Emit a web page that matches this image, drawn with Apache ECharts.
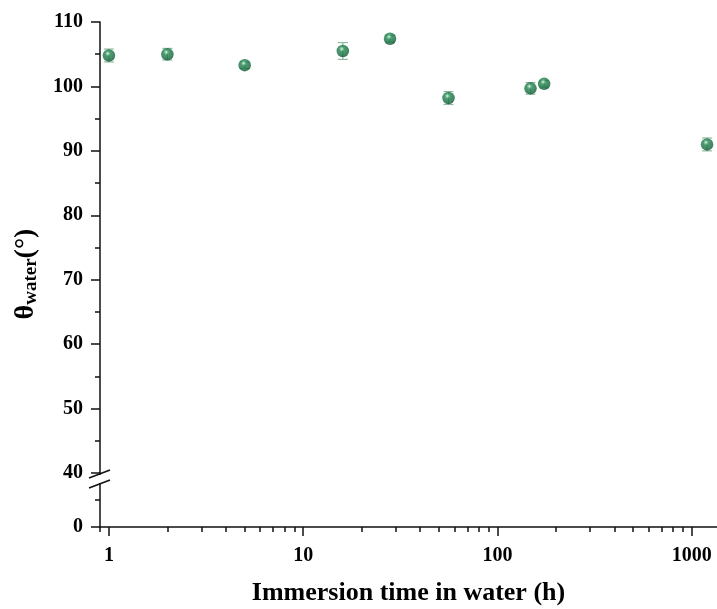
<!DOCTYPE html>
<html>
<head>
<meta charset="utf-8">
<script src="https://cdn.jsdelivr.net/npm/echarts@6/dist/echarts.min.js"></script>
<style>html,body{margin:0;padding:0;background:#fff}#c{width:717px;height:609px}</style>
</head>
<body>
<div id="c"></div>
<script>
// ---- data ----
const times  = [1, 2, 5, 16, 28, 56, 148, 174, 1200];          // immersion time (h)
const angles = [104.8, 105.0, 103.3, 105.5, 107.4, 98.2, 99.7, 100.4, 91.0]; // θ water (°)
const errors = [1.0, 0.9, 0.5, 1.3, 0.5, 1.0, 0.9, 0.5, 1.0];
const xMajorTicks = [1, 10, 100, 1000];
const xMinorTicks = [0.9, 2, 3, 4, 5, 6, 7, 8, 9, 20, 30, 40, 50, 60, 70, 80, 90, 200, 300, 400, 500, 600, 700, 800, 900];
const yUpperTicks = [40, 50, 60, 70, 80, 90, 100, 110];
const yLowerTicks = [0];

const SERIF = '"Liberation Serif","Times New Roman",serif';
const xMin = 0.9, xMax = 1350;

const chart = echarts.init(document.getElementById('c'));
const sphere = {
  type: 'radial', x: 0.42, y: 0.34, r: 0.64,
  colorStops: [
    {offset: 0, color: '#eaf7ef'},
    {offset: 0.14, color: '#7cc59c'},
    {offset: 0.34, color: '#20804d'},
    {offset: 0.8, color: '#146b3d'},
    {offset: 1, color: '#0d5230'}
  ]
};

const option = {
  backgroundColor: '#fff',
  animation: false,
  grid: [
    {left: 100, right: 0, top: 22, height: 451},
    {left: 100, right: 0, top: 473, height: 54}
  ],
  xAxis: [
    {gridIndex: 0, type: 'log', min: xMin, max: xMax, show: false},
    {gridIndex: 1, type: 'log', min: xMin, max: xMax, position: 'bottom',
      axisLine: {show: true, lineStyle: {color: '#111', width: 1.5}},
      axisTick: {show: true, length: 9, inside: false, customValues: xMajorTicks, lineStyle: {color: '#111', width: 1.5}},
      axisLabel: {show: true, customValues: xMajorTicks, margin: 19, color: '#000', fontSize: 20, fontWeight: 'bold', fontFamily: SERIF,
        formatter: v => String(Math.round(v))},
      splitLine: {show: false},
      name: 'Immersion time in water (h)', nameLocation: 'middle', nameGap: 53,
      nameTextStyle: {color: '#000', fontSize: 26, fontWeight: 'bold', fontFamily: SERIF}
    },
    {gridIndex: 1, type: 'log', min: xMin, max: xMax, position: 'bottom',
      axisLine: {show: false},
      axisTick: {show: true, length: 5, inside: false, customValues: xMinorTicks, lineStyle: {color: '#111', width: 1.5}},
      axisLabel: {show: false}, splitLine: {show: false}
    }
  ],
  yAxis: [
    {gridIndex: 0, type: 'value', min: 40, max: 110, interval: 10,
      axisLine: {show: true, lineStyle: {color: '#111', width: 1.5}},
      axisTick: {show: true, length: 9, inside: false, customValues: yUpperTicks, lineStyle: {color: '#111', width: 1.5}},
      minorTick: {show: true, splitNumber: 2, length: 5, lineStyle: {color: '#111', width: 1.5}},
      axisLabel: {customValues: yUpperTicks, margin: 17, color: '#000', fontSize: 20, fontWeight: 'bold', fontFamily: SERIF},
      splitLine: {show: false}
    },
    {gridIndex: 1, type: 'value', min: 0, max: 40, interval: 40,
      axisLine: {show: true, lineStyle: {color: '#111', width: 1.5}},
      axisTick: {show: true, length: 9, inside: false, customValues: yLowerTicks, lineStyle: {color: '#111', width: 1.5}},
      minorTick: {show: true, splitNumber: 2, length: 5, lineStyle: {color: '#111', width: 1.5}},
      axisLabel: {customValues: yLowerTicks, margin: 17, color: '#000', fontSize: 20, fontWeight: 'bold', fontFamily: SERIF},
      splitLine: {show: false}
    }
  ],
  series: [
    {
      type: 'custom', xAxisIndex: 0, yAxisIndex: 0, z: 2,
      data: times.map((t, i) => [t, angles[i] - errors[i], angles[i] + errors[i]]),
      renderItem: function (params, api) {
        const lo = api.coord([api.value(0), api.value(1)]);
        const hi = api.coord([api.value(0), api.value(2)]);
        const w = 5;
        const st = {stroke: '#8fb9a2', lineWidth: 1.2};
        return {type: 'group', children: [
          {type: 'line', shape: {x1: lo[0], y1: lo[1], x2: hi[0], y2: hi[1]}, style: st},
          {type: 'line', shape: {x1: lo[0] - w, y1: lo[1], x2: lo[0] + w, y2: lo[1]}, style: st},
          {type: 'line', shape: {x1: hi[0] - w, y1: hi[1], x2: hi[0] + w, y2: hi[1]}, style: st}
        ]};
      }
    },
    {
      type: 'scatter', xAxisIndex: 0, yAxisIndex: 0, z: 3,
      symbol: 'circle', symbolSize: 12.5,
      itemStyle: {color: sphere},
      data: times.map((t, i) => [t, angles[i]])
    }
  ]
};
chart.setOption(option);

// axis-break marks and the y-axis title
const bp = chart.convertToPixel({gridIndex: 1}, [1, 40]);
const ax = chart.convertToPixel({gridIndex: 1}, [xMin, 40])[0];
const by = bp[1] + 6;
chart.setOption({
  graphic: [
    {type: 'rect', shape: {x: ax - 3, y: by - 4, width: 6, height: 8}, style: {fill: '#fff'}, z: 100},
    {type: 'line', shape: {x1: ax - 11, y1: by - 1, x2: ax + 10, y2: by - 9}, style: {stroke: '#111', lineWidth: 1.6}, z: 101},
    {type: 'line', shape: {x1: ax - 11, y1: by + 9, x2: ax + 10, y2: by + 1}, style: {stroke: '#111', lineWidth: 1.6}, z: 101},
    {type: 'text', x: 26, y: 274, rotation: Math.PI / 2, z: 100,
      style: {
        text: '{t|θ}{s|water}{t|(°)}',
        align: 'center', verticalAlign: 'middle',
        rich: {
          t: {fontSize: 28, fontWeight: 'bold', fontFamily: SERIF, fill: '#000', lineHeight: 30},
          s: {fontSize: 19, fontWeight: 'bold', fontFamily: SERIF, fill: '#000', lineHeight: 10, verticalAlign: 'bottom'}
        }
      }
    }
  ]
});
</script>
</body>
</html>
